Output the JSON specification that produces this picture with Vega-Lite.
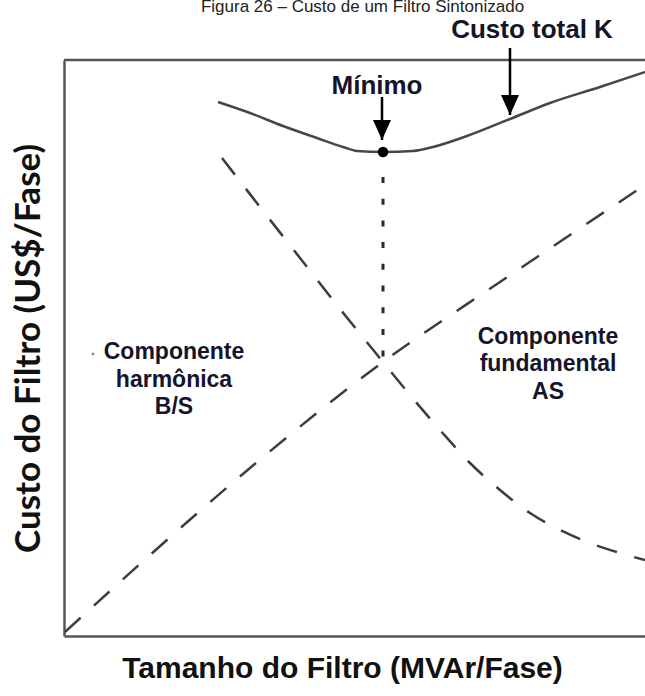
{
  "$schema": "https://vega.github.io/schema/vega-lite/v6.json",
  "width": 581,
  "height": 576,
  "autosize": {"type": "none"},
  "padding": {"left": 64, "top": 60, "right": 0, "bottom": 60},
  "background": "white",
  "config": {
    "view": {"stroke": null},
    "axis": {"ticks": false, "labels": false, "grid": false, "domainColor": "#555555", "domainWidth": 2.5}
  },
  "title": {
    "text": "Figura 26 – Custo de um Filtro Sintonizado",
    "font": "Liberation Sans",
    "fontSize": 17,
    "fontWeight": "normal",
    "color": "#222222",
    "anchor": "middle",
    "frame": "group",
    "baseline": "alphabetic",
    "offset": 7,
    "dx": 8,
    "dy": 19
  },
  "datasets": {
    "curvas": [
      {"serie": "K", "s": 154, "custo": 534},
      {"serie": "K", "s": 186, "custo": 523},
      {"serie": "K", "s": 219, "custo": 510},
      {"serie": "K", "s": 253, "custo": 498},
      {"serie": "K", "s": 279, "custo": 489},
      {"serie": "K", "s": 293, "custo": 485},
      {"serie": "K", "s": 319, "custo": 484},
      {"serie": "K", "s": 349, "custo": 485},
      {"serie": "K", "s": 369, "custo": 489},
      {"serie": "K", "s": 403, "custo": 500},
      {"serie": "K", "s": 446, "custo": 517},
      {"serie": "K", "s": 486, "custo": 533},
      {"serie": "K", "s": 536, "custo": 549},
      {"serie": "K", "s": 581, "custo": 564},
      {"serie": "BS", "s": 158, "custo": 478},
      {"serie": "BS", "s": 196, "custo": 429},
      {"serie": "BS", "s": 236, "custo": 378},
      {"serie": "BS", "s": 276, "custo": 327},
      {"serie": "BS", "s": 319, "custo": 274},
      {"serie": "BS", "s": 346, "custo": 241},
      {"serie": "BS", "s": 376, "custo": 206},
      {"serie": "BS", "s": 406, "custo": 173},
      {"serie": "BS", "s": 436, "custo": 146},
      {"serie": "BS", "s": 466, "custo": 123},
      {"serie": "BS", "s": 496, "custo": 106},
      {"serie": "BS", "s": 526, "custo": 93},
      {"serie": "BS", "s": 556, "custo": 83},
      {"serie": "BS", "s": 581, "custo": 76},
      {"serie": "AS", "s": 1, "custo": 4},
      {"serie": "AS", "s": 86, "custo": 81},
      {"serie": "AS", "s": 186, "custo": 168},
      {"serie": "AS", "s": 319, "custo": 274},
      {"serie": "AS", "s": 436, "custo": 354},
      {"serie": "AS", "s": 581, "custo": 451}
    ],
    "rotulos": [
      {"texto": "Custo total K", "s": 468, "custo": 606, "grupo": "seta"},
      {"texto": "Mínimo", "s": 313, "custo": 550, "grupo": "seta"},
      {"texto": "Componente", "s": 110, "custo": 284, "grupo": "comp"},
      {"texto": "harmônica", "s": 110, "custo": 256, "grupo": "comp"},
      {"texto": "B/S", "s": 110, "custo": 229, "grupo": "comp"},
      {"texto": "Componente", "s": 484, "custo": 299, "grupo": "comp"},
      {"texto": "fundamental", "s": 484, "custo": 272, "grupo": "comp"},
      {"texto": "AS", "s": 484, "custo": 244, "grupo": "comp"}
    ],
    "setas": [
      {"s": 446, "topo": 588, "ponta": 521},
      {"s": 318, "topo": 539, "ponta": 496}
    ],
    "minimo": [
      {"s": 319, "custo": 484, "de": 459, "ate": 276}
    ],
    "ponto": [
      {"s": 29, "custo": 282}
    ],
    "borda": [
      {"custo": 576}
    ]
  },
  "layer": [
    {
      "data": {"name": "curvas"},
      "transform": [{"filter": "datum.serie === 'K'"}],
      "mark": {"type": "line", "interpolate": "monotone", "stroke": "#474747", "strokeWidth": 2.5},
      "encoding": {
        "x": {
          "field": "s", "type": "quantitative",
          "scale": {"domain": [0, 581], "nice": false, "zero": false},
          "axis": {
            "title": "Tamanho do Filtro (MVAr/Fase)",
            "titleFont": "Liberation Sans", "titleFontSize": 30, "titleFontWeight": "bold",
            "titleColor": "#111111", "titleX": 278, "titleY": 32,
            "titleAlign": "center", "titleBaseline": "middle"
          }
        },
        "y": {
          "field": "custo", "type": "quantitative",
          "scale": {"domain": [0, 576], "nice": false, "zero": false},
          "axis": {
            "title": "Custo do Filtro (US$/Fase)",
            "titleFont": "Lato", "titleFontSize": 35, "titleFontWeight": "bold",
            "titleColor": "#111111", "titleX": -36, "titleY": 288,
            "titleAlign": "center", "titleBaseline": "middle", "titleAngle": 270
          }
        }
      }
    },
    {
      "data": {"name": "borda"},
      "mark": {"type": "rule", "stroke": "#555555", "strokeWidth": 2.5},
      "encoding": {"y": {"field": "custo", "type": "quantitative"}}
    },
    {
      "data": {"name": "curvas"},
      "transform": [{"filter": "datum.serie === 'BS'"}],
      "mark": {"type": "line", "interpolate": "monotone", "stroke": "#3d3d3d", "strokeWidth": 2.5, "strokeDash": [21, 18]},
      "encoding": {
        "x": {"field": "s", "type": "quantitative"},
        "y": {"field": "custo", "type": "quantitative"}
      }
    },
    {
      "data": {"name": "curvas"},
      "transform": [{"filter": "datum.serie === 'AS'"}],
      "mark": {"type": "line", "interpolate": "monotone", "stroke": "#3d3d3d", "strokeWidth": 2.5, "strokeDash": [21, 18]},
      "encoding": {
        "x": {"field": "s", "type": "quantitative"},
        "y": {"field": "custo", "type": "quantitative"}
      }
    },
    {
      "data": {"name": "minimo"},
      "mark": {"type": "rule", "stroke": "#2a2a2a", "strokeWidth": 3, "strokeDash": [6, 15.7]},
      "encoding": {
        "x": {"field": "s", "type": "quantitative"},
        "y": {"field": "de", "type": "quantitative"},
        "y2": {"field": "ate"}
      }
    },
    {
      "data": {"name": "minimo"},
      "mark": {"type": "point", "shape": "circle", "filled": true, "color": "#000000", "size": 110, "opacity": 1},
      "encoding": {
        "x": {"field": "s", "type": "quantitative"},
        "y": {"field": "custo", "type": "quantitative"}
      }
    },
    {
      "data": {"name": "setas"},
      "mark": {"type": "rule", "stroke": "#000000", "strokeWidth": 2.5},
      "encoding": {
        "x": {"field": "s", "type": "quantitative"},
        "y": {"field": "topo", "type": "quantitative"},
        "y2": {"field": "ponta"}
      }
    },
    {
      "data": {"name": "setas"},
      "mark": {"type": "point", "shape": "M-0.9,-2L0.9,-2L0,0Z", "filled": true, "color": "#000000", "size": 400, "opacity": 1},
      "encoding": {
        "x": {"field": "s", "type": "quantitative"},
        "y": {"field": "ponta", "type": "quantitative"}
      }
    },
    {
      "data": {"name": "rotulos"},
      "transform": [{"filter": "datum.grupo === 'seta'"}],
      "mark": {"type": "text", "font": "Liberation Sans", "fontSize": 26, "fontWeight": "bold", "color": "#14142a", "align": "center", "baseline": "middle"},
      "encoding": {
        "x": {"field": "s", "type": "quantitative"},
        "y": {"field": "custo", "type": "quantitative"},
        "text": {"field": "texto"}
      }
    },
    {
      "data": {"name": "rotulos"},
      "transform": [{"filter": "datum.grupo === 'comp'"}],
      "mark": {"type": "text", "font": "Liberation Sans", "fontSize": 23, "fontWeight": "bold", "color": "#14142a", "align": "center", "baseline": "middle"},
      "encoding": {
        "x": {"field": "s", "type": "quantitative"},
        "y": {"field": "custo", "type": "quantitative"},
        "text": {"field": "texto"}
      }
    },
    {
      "data": {"name": "ponto"},
      "mark": {"type": "point", "shape": "circle", "filled": true, "color": "#8a8a8a", "size": 8, "opacity": 1},
      "encoding": {
        "x": {"field": "s", "type": "quantitative"},
        "y": {"field": "custo", "type": "quantitative"}
      }
    }
  ]
}
